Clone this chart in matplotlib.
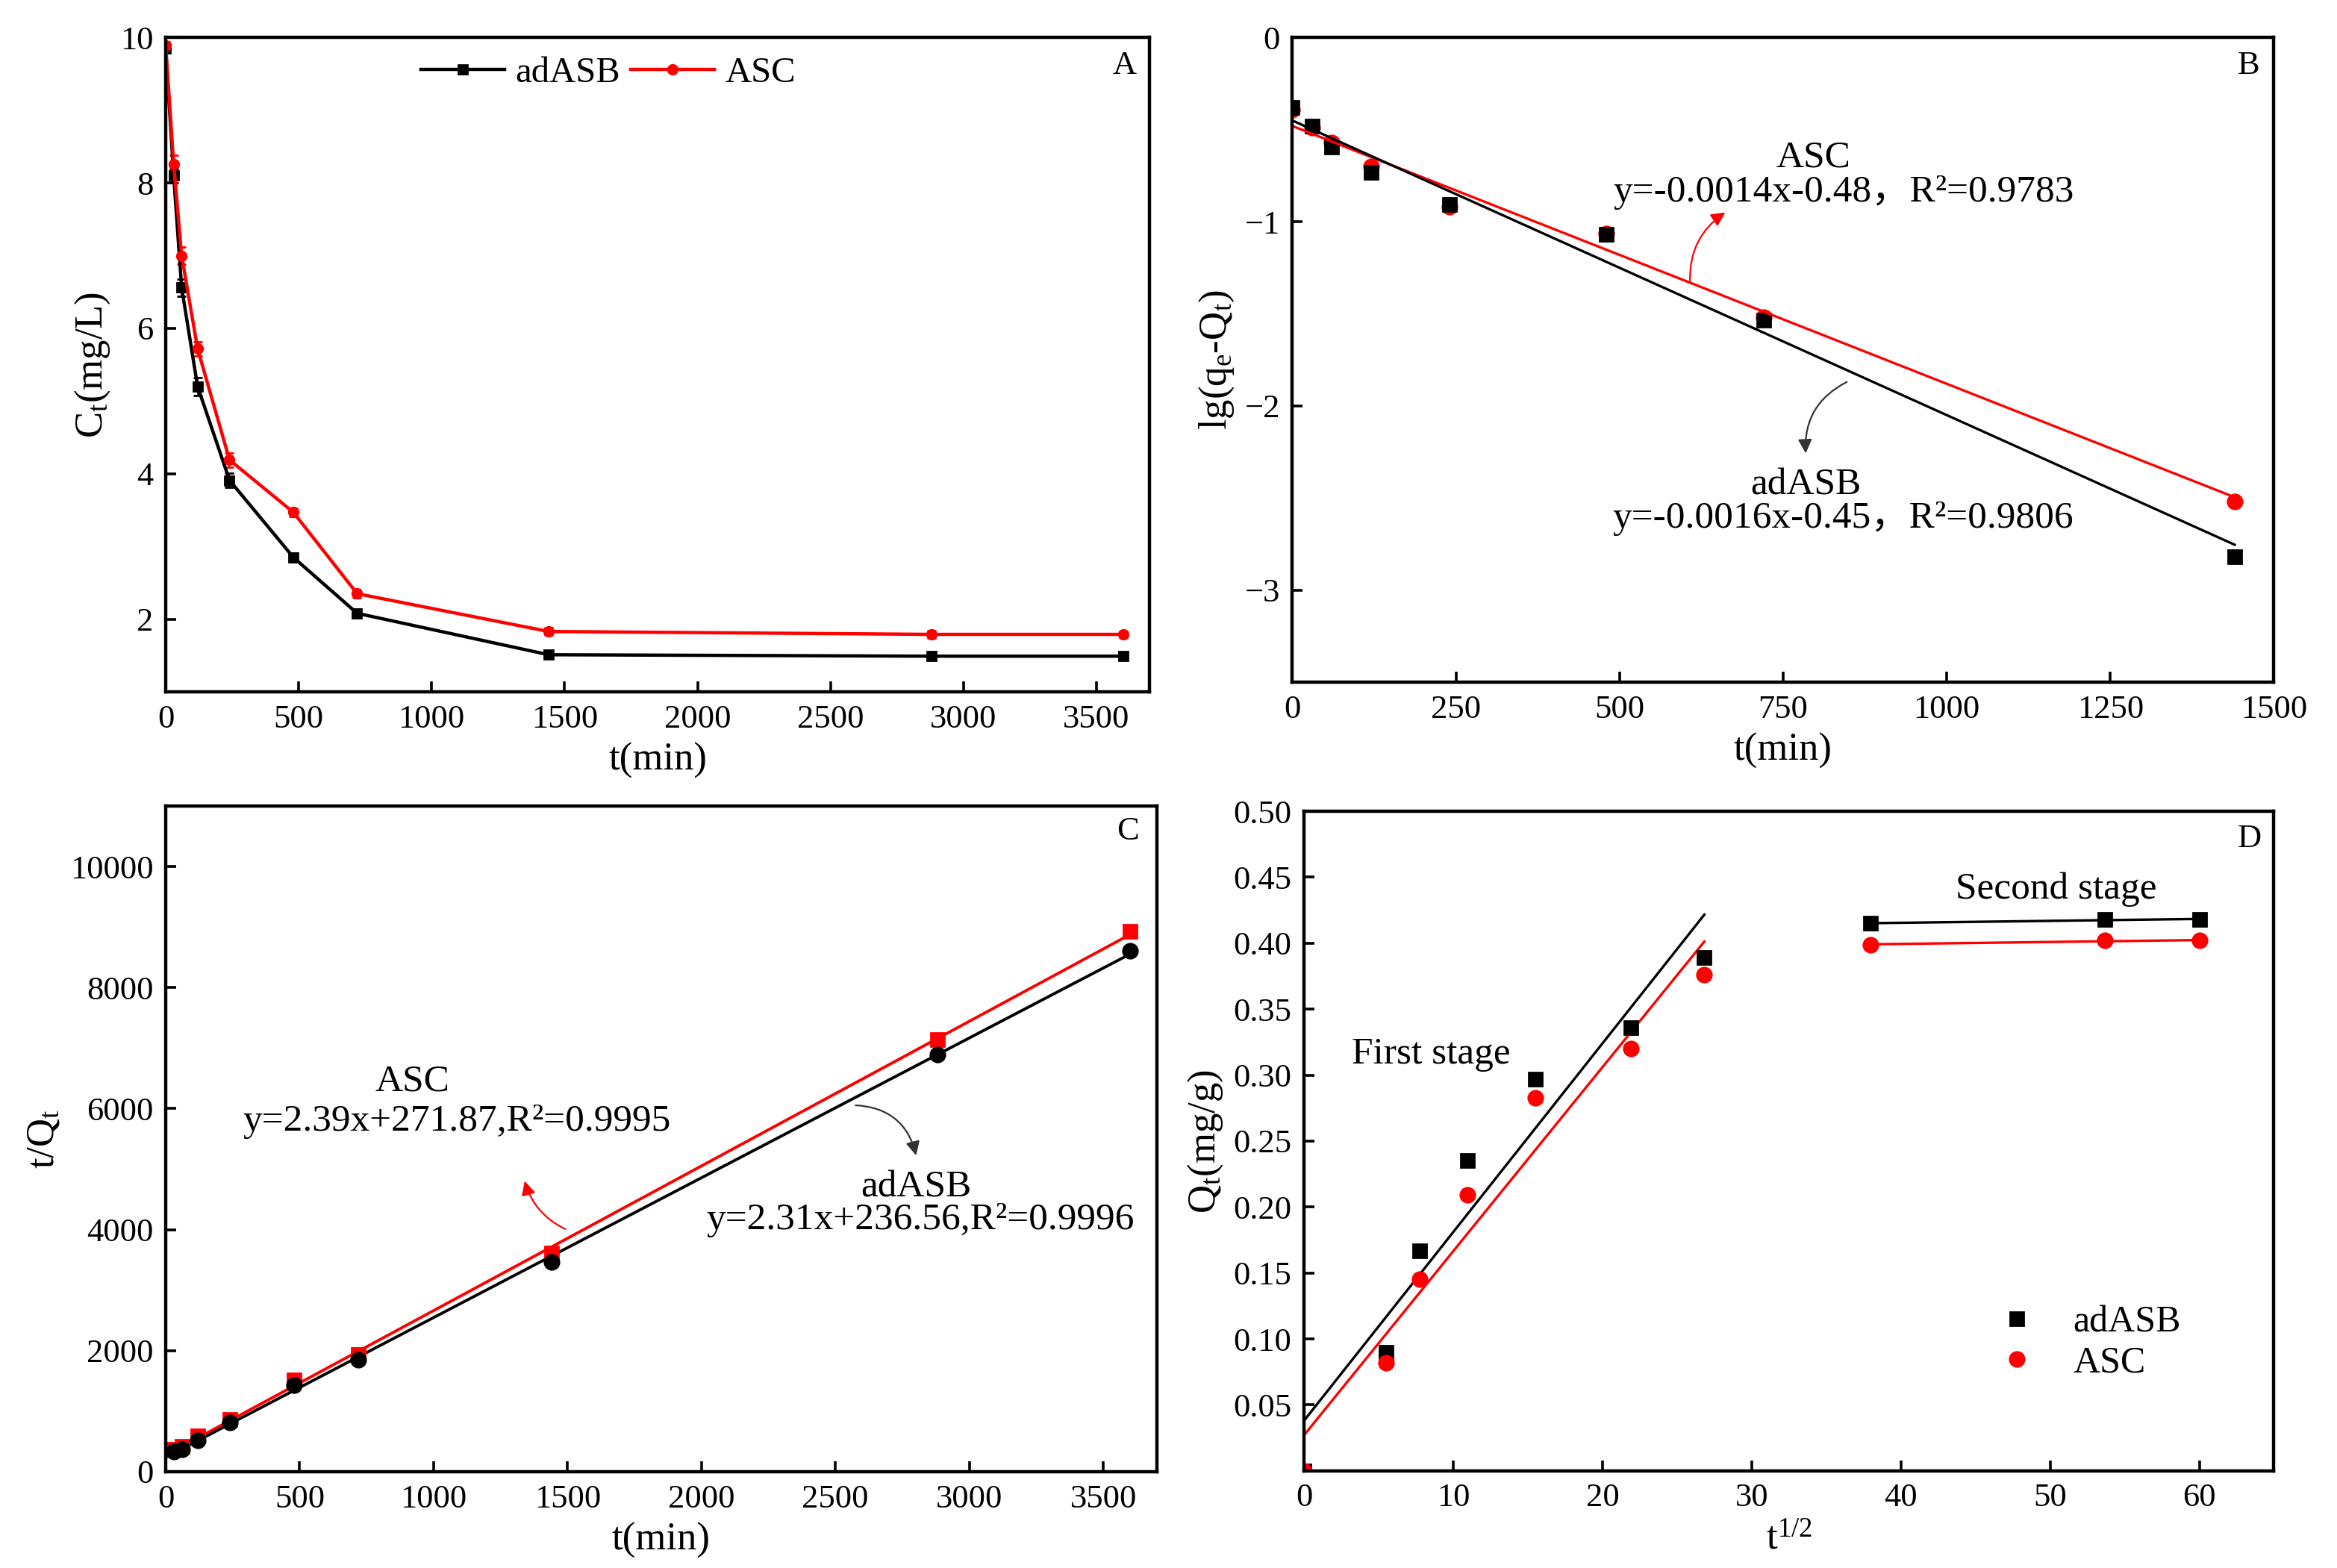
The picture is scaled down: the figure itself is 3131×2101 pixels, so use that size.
import numpy as np
import matplotlib
matplotlib.use('Agg')
import matplotlib.pyplot as plt

plt.rcParams['font.family'] = ['Liberation Serif', 'Noto Sans CJK SC']
plt.rcParams['mathtext.fontset'] = 'custom'
plt.rcParams['mathtext.rm'] = 'Liberation Serif'
plt.rcParams['mathtext.it'] = 'Liberation Serif:italic'

# --- A: concentration vs time
t_a = [0, 30, 60, 120, 240, 480, 720, 1440, 2880, 3600]
ct_adasb = [9.85, 8.10, 6.56, 5.20, 3.91, 2.85, 2.08, 1.51, 1.49, 1.49]
ct_asc = [9.89, 8.26, 7.00, 5.72, 4.19, 3.47, 2.35, 1.83, 1.79, 1.79]
err_adasb = [0.05, 0.10, 0.12, 0.12, 0.10, 0.06, 0.06, 0.05, 0.05, 0.04]
err_asc = [0.05, 0.12, 0.12, 0.10, 0.10, 0.06, 0.06, 0.05, 0.05, 0.04]

# --- B: pseudo-first-order
t_b = [0, 30, 60, 120, 240, 480, 720, 1440]
lg_adasb = [-0.38, -0.48, -0.594, -0.73, -0.906, -1.07, -1.535, -2.82]
lg_asc = [-0.39, -0.49, -0.57, -0.70, -0.92, -1.065, -1.52, -2.52]
pfo_adasb = (-0.0016, -0.45)
pfo_asc = (-0.0014, -0.48)

# --- C: pseudo-second-order
t_c = [30, 60, 120, 240, 480, 720, 1440, 2880, 3600]
tq_adasb = [333, 370, 515, 812, 1431, 1848, 3469, 6888, 8611]
tq_asc = [370, 420, 590, 860, 1514, 1940, 3619, 7138, 8927]
pso_adasb = (2.31, 236.56)
pso_asc = (2.39, 271.87)

# --- D: intraparticle diffusion
sqrt_t = [0, 5.48, 7.75, 10.95, 15.49, 21.91, 26.83, 37.95, 53.67, 60.0]
qt_adasb = [0, 0.090, 0.167, 0.235, 0.297, 0.336, 0.389, 0.415, 0.418, 0.418]
qt_asc = [0, 0.082, 0.145, 0.209, 0.283, 0.320, 0.376, 0.399, 0.402, 0.402]
stage1_adasb = (0.0143, 0.038)
stage1_asc = (0.01395, 0.027)
n_stage1 = 7

fig = plt.figure(figsize=(3131 / 200, 2101 / 200), dpi=200)
axA = fig.add_axes([0.0709, 0.5588, 0.4210, 0.4172])
axB = fig.add_axes([0.5530, 0.5650, 0.4200, 0.4110])
axC = fig.add_axes([0.0709, 0.0614, 0.4241, 0.4246])
axD = fig.add_axes([0.5580, 0.0620, 0.4150, 0.4206])

TICK = 16
LAB = 19
ANN = 18.5

for ax in (axA, axB, axC, axD):
    for sp in ax.spines.values():
        sp.set_linewidth(1.6)
    ax.tick_params(direction='in', length=5, width=1.3, labelsize=TICK,
                   top=False, right=False, pad=6)

# A
eb1 = axA.errorbar(t_a, ct_adasb, yerr=err_adasb, color='black', marker='s',
                   ms=4.5, lw=1.6, capsize=2, elinewidth=0.6)
eb2 = axA.errorbar(t_a, ct_asc, yerr=err_asc, color='red', marker='o',
                   ms=4.5, lw=1.6, capsize=2, elinewidth=0.6)
axA.set_xlim(0, 3700)
axA.set_ylim(1, 10)
axA.set_xticks(range(0, 3501, 500))
axA.set_yticks([2, 4, 6, 8, 10])
axA.set_xlabel('t(min)', fontsize=LAB)
axA.set_ylabel(r'C$_\mathrm{t}$(mg/L)', fontsize=LAB)
axA.legend([eb1.lines[0], eb2.lines[0]], ['adASB', 'ASC'],
           loc='center', bbox_to_anchor=(0.45, 0.946), ncol=2, frameon=False,
           fontsize=17.5, handlelength=2.3, handletextpad=0.3,
           columnspacing=0.3, borderpad=0)
axA.text(0.975, 0.957, 'A', transform=axA.transAxes, fontsize=16,
         ha='center', va='center')

# B
xb = np.array([0, 1440])
axB.plot(t_b, lg_asc, 'o', color='red', ms=7)
axB.plot(t_b, lg_adasb, 's', color='black', ms=6.5)
axB.plot(xb, pfo_asc[0] * xb + pfo_asc[1], color='red', lw=1.2)
axB.plot(xb, pfo_adasb[0] * xb + pfo_adasb[1], color='black', lw=1.2)
axB.set_xlim(0, 1500)
axB.set_ylim(-3.5, 0)
axB.set_xticks(range(0, 1501, 250))
axB.set_yticks([0, -1, -2, -3])
axB.set_xlabel('t(min)', fontsize=LAB)
axB.set_ylabel(r'lg(q$_\mathrm{e}$-Q$_\mathrm{t}$)', fontsize=LAB)
axB.text(796, -0.652, 'ASC', fontsize=ANN, ha='center', va='center')
axB.text(842, -0.842, 'y=-0.0014x-0.48，R²=0.9783', fontsize=ANN,
         ha='center', va='center')
axB.text(785, -2.43, 'adASB', fontsize=ANN, ha='center', va='center')
axB.text(842, -2.61, 'y=-0.0016x-0.45，R²=0.9806', fontsize=ANN,
         ha='center', va='center')
axB.annotate('', xy=(667, -0.937), xytext=(608, -1.345),
             arrowprops=dict(arrowstyle='-|>', color='red', lw=0.8,
                             mutation_scale=14,
                             connectionstyle='arc3,rad=-0.3'))
axB.annotate('', xy=(785, -2.28), xytext=(853, -1.86),
             arrowprops=dict(arrowstyle='-|>', color='#333333', lw=0.8,
                             mutation_scale=14,
                             connectionstyle='arc3,rad=0.35'))
axB.text(0.974, 0.957, 'B', transform=axB.transAxes, fontsize=16,
         ha='center', va='center')

# C
xc = np.array([0, 3600])
axC.plot(xc, pso_asc[0] * xc + pso_asc[1], color='red', lw=1.4)
axC.plot(xc, pso_adasb[0] * xc + pso_adasb[1], color='black', lw=1.4)
axC.plot(t_c, tq_asc, 's', color='red', ms=6.5)
axC.plot(t_c, tq_adasb, 'o', color='black', ms=7)
axC.set_xlim(0, 3700)
axC.set_ylim(0, 11000)
axC.set_xticks(range(0, 3501, 500))
axC.set_yticks(range(0, 10001, 2000))
axC.set_xlabel('t(min)', fontsize=LAB)
axC.set_ylabel(r't/Q$_\mathrm{t}$', fontsize=LAB)
axC.text(920, 6448, 'ASC', fontsize=ANN, ha='center', va='center')
axC.text(1088, 5782, 'y=2.39x+271.87,R²=0.9995', fontsize=ANN,
         ha='center', va='center')
axC.text(2802, 4700, 'adASB', fontsize=ANN, ha='center', va='center')
axC.text(2817, 4160, 'y=2.31x+236.56,R²=0.9996', fontsize=ANN,
         ha='center', va='center')
axC.annotate('', xy=(1336, 4870), xytext=(1506, 3980),
             arrowprops=dict(arrowstyle='-|>', color='red', lw=0.8,
                             mutation_scale=14,
                             connectionstyle='arc3,rad=-0.25'))
axC.annotate('', xy=(2805, 5158), xytext=(2560, 6057),
             arrowprops=dict(arrowstyle='-|>', color='#333333', lw=0.8,
                             mutation_scale=14,
                             connectionstyle='arc3,rad=-0.4'))
axC.text(0.971, 0.962, 'C', transform=axC.transAxes, fontsize=16,
         ha='center', va='center')

# D
x1 = np.array([0, sqrt_t[n_stage1 - 1]])
axD.plot(x1, stage1_adasb[0] * x1 + stage1_adasb[1], color='black', lw=1.2)
axD.plot(x1, stage1_asc[0] * x1 + stage1_asc[1], color='red', lw=1.2)
x2 = np.array(sqrt_t[n_stage1:])
p2b = np.polyfit(x2, qt_adasb[n_stage1:], 1)
p2r = np.polyfit(x2, qt_asc[n_stage1:], 1)
x2l = np.array([x2[0], x2[-1]])
axD.plot(x2l, np.polyval(p2b, x2l), color='black', lw=1.2)
axD.plot(x2l, np.polyval(p2r, x2l), color='red', lw=1.2)
axD.plot(sqrt_t, qt_adasb, 's', color='black', ms=6.5, label='adASB')
axD.plot(sqrt_t, qt_asc, 'o', color='red', ms=7, label='ASC')
axD.set_xlim(0, 65)
axD.set_ylim(0, 0.5)
axD.set_xticks(range(0, 61, 10))
axD.set_yticks(np.arange(0.05, 0.501, 0.05))
axD.yaxis.set_major_formatter(plt.FormatStrFormatter('%.2f'))
axD.set_xlabel(r't$^\mathrm{1/2}$', fontsize=LAB)
axD.set_ylabel(r'Q$_\mathrm{t}$(mg/g)', fontsize=LAB)
axD.text(8.49, 0.316, 'First stage', fontsize=ANN, ha='center', va='center')
axD.text(50.4, 0.441, 'Second stage', fontsize=ANN, ha='center', va='center')
axD.legend(loc='center left', bbox_to_anchor=(0.716, 0.194), frameon=False,
           fontsize=18, handlelength=1.0, handletextpad=1.0,
           labelspacing=0.15, borderpad=0, borderaxespad=0)
axD.text(0.975, 0.958, 'D', transform=axD.transAxes, fontsize=16,
         ha='center', va='center')

fig.savefig('out.png', dpi=200, facecolor='white')
